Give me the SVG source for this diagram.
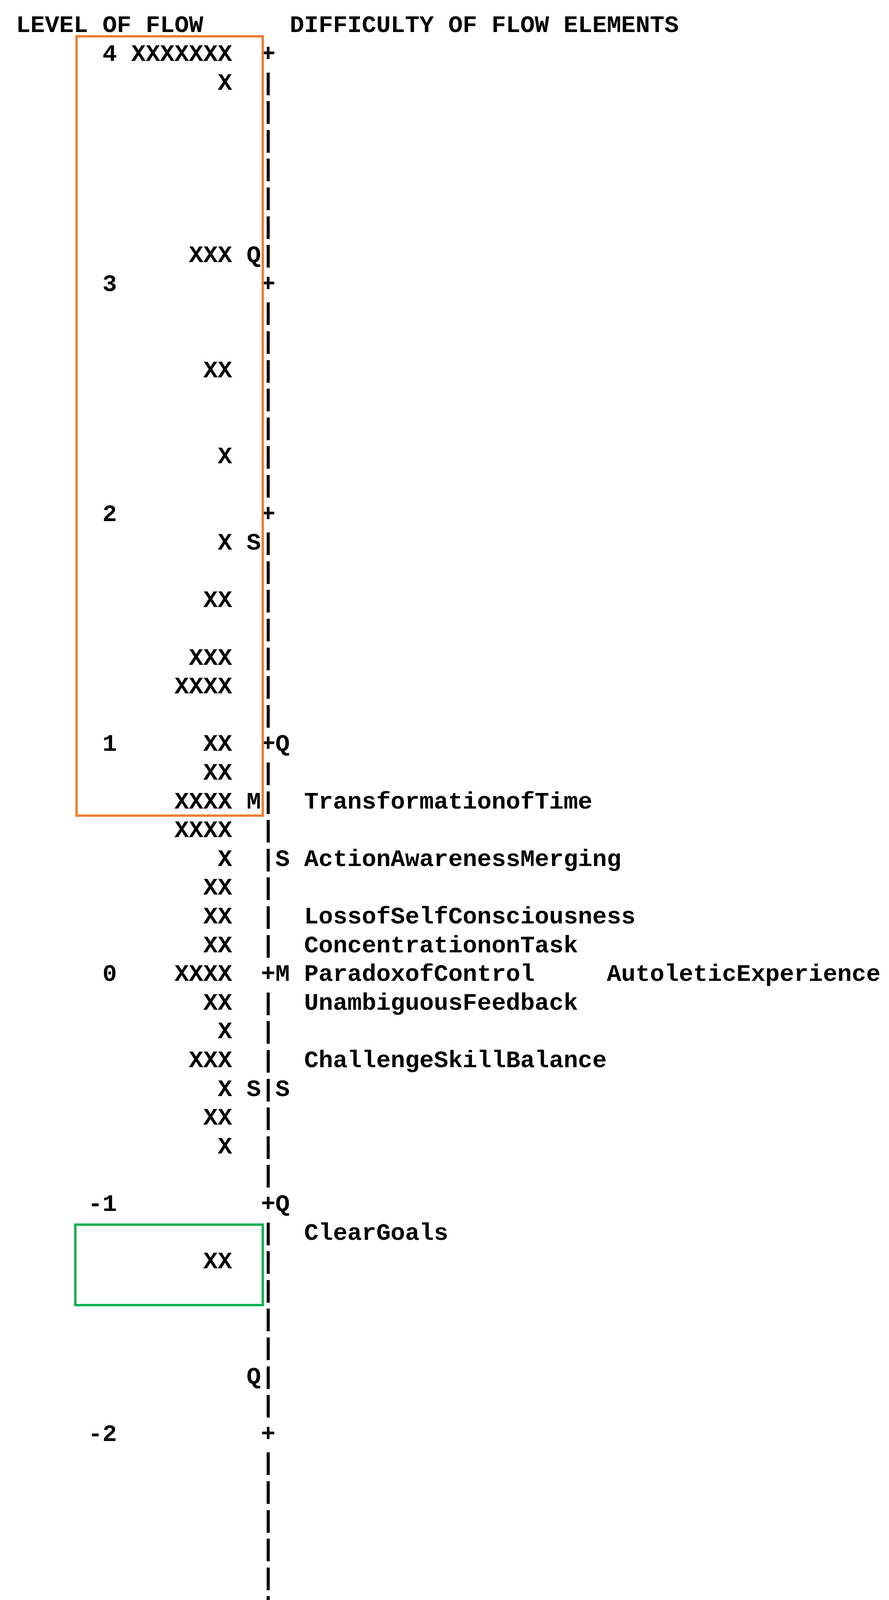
<svg xmlns="http://www.w3.org/2000/svg" width="2277" height="4329" viewBox="0 0 2277 4329">
<style>
text{font-family:"Liberation Mono","Courier New",monospace;font-weight:bold;font-size:61.5px;fill:#000;white-space:pre}
.box{fill:none;stroke-width:6}
</style>
<rect width="2277" height="4329" fill="#fff"/>
<g id="title"><text x="41" y="82" xml:space="preserve">LEVEL OF FLOW      DIFFICULTY OF FLOW ELEMENTS</text></g>
<g id="map">
<text x="41" y="156" xml:space="preserve">      4 XXXXXXX  +</text>
<text x="41" y="229.6" xml:space="preserve">              X  |</text>
<text x="41" y="303.2" xml:space="preserve">                 |</text>
<text x="41" y="376.8" xml:space="preserve">                 |</text>
<text x="41" y="450.4" xml:space="preserve">                 |</text>
<text x="41" y="524" xml:space="preserve">                 |</text>
<text x="41" y="597.6" xml:space="preserve">                 |</text>
<text x="41" y="671.2" xml:space="preserve">            XXX Q|</text>
<text x="41" y="744.8" xml:space="preserve">      3          +</text>
<text x="41" y="818.4" xml:space="preserve">                 |</text>
<text x="41" y="892" xml:space="preserve">                 |</text>
<text x="41" y="965.6" xml:space="preserve">             XX  |</text>
<text x="41" y="1039.2" xml:space="preserve">                 |</text>
<text x="41" y="1112.8" xml:space="preserve">                 |</text>
<text x="41" y="1186.4" xml:space="preserve">              X  |</text>
<text x="41" y="1260" xml:space="preserve">                 |</text>
<text x="41" y="1333.6" xml:space="preserve">      2          +</text>
<text x="41" y="1407.2" xml:space="preserve">              X S|</text>
<text x="41" y="1480.8" xml:space="preserve">                 |</text>
<text x="41" y="1554.4" xml:space="preserve">             XX  |</text>
<text x="41" y="1628" xml:space="preserve">                 |</text>
<text x="41" y="1701.6" xml:space="preserve">            XXX  |</text>
<text x="41" y="1775.2" xml:space="preserve">           XXXX  |</text>
<text x="41" y="1848.8" xml:space="preserve">                 |</text>
<text x="41" y="1922.4" xml:space="preserve">      1      XX  +Q</text>
<text x="41" y="1996" xml:space="preserve">             XX  |</text>
<text x="41" y="2069.6" xml:space="preserve">           XXXX M|  TransformationofTime</text>
<text x="41" y="2143.2" xml:space="preserve">           XXXX  |</text>
<text x="41" y="2216.8" xml:space="preserve">              X  |S ActionAwarenessMerging</text>
<text x="41" y="2290.4" xml:space="preserve">             XX  |</text>
<text x="41" y="2364" xml:space="preserve">             XX  |  LossofSelfConsciousness</text>
<text x="41" y="2437.6" xml:space="preserve">             XX  |  ConcentrationonTask</text>
<text x="41" y="2511.2" xml:space="preserve">      0    XXXX  +M ParadoxofControl     AutoleticExperience</text>
<text x="41" y="2584.8" xml:space="preserve">             XX  |  UnambiguousFeedback</text>
<text x="41" y="2658.4" xml:space="preserve">              X  |</text>
<text x="41" y="2732" xml:space="preserve">            XXX  |  ChallengeSkillBalance</text>
<text x="41" y="2805.6" xml:space="preserve">              X S|S</text>
<text x="41" y="2879.2" xml:space="preserve">             XX  |</text>
<text x="41" y="2952.8" xml:space="preserve">              X  |</text>
<text x="41" y="3026.4" xml:space="preserve">                 |</text>
<text x="41" y="3100" xml:space="preserve">     -1          +Q</text>
<text x="41" y="3173.6" xml:space="preserve">                 |  ClearGoals</text>
<text x="41" y="3247.2" xml:space="preserve">             XX  |</text>
<text x="41" y="3320.8" xml:space="preserve">                 |</text>
<text x="41" y="3394.4" xml:space="preserve">                 |</text>
<text x="41" y="3468" xml:space="preserve">                 |</text>
<text x="41" y="3541.6" xml:space="preserve">                Q|</text>
<text x="41" y="3615.2" xml:space="preserve">                 |</text>
<text x="41" y="3688.8" xml:space="preserve">     -2          +</text>
<text x="41" y="3762.4" xml:space="preserve">                 |</text>
<text x="41" y="3836" xml:space="preserve">                 |</text>
<text x="41" y="3909.6" xml:space="preserve">                 |</text>
<text x="41" y="3983.2" xml:space="preserve">                 |</text>
<text x="41" y="4056.8" xml:space="preserve">                 |</text>
<text x="41" y="4130.4" xml:space="preserve">                 |</text>
<text x="41" y="4204" xml:space="preserve">              X  |</text>
<text x="41" y="4277.6" xml:space="preserve">     -3          +</text>
</g>
<g id="highlight-high"><rect class="box" x="196" y="93" width="477" height="1995" stroke="#ED7D31"/></g>
<g id="highlight-low"><rect class="box" x="193" y="3135" width="480" height="206" stroke="#00B050"/></g>
</svg>
